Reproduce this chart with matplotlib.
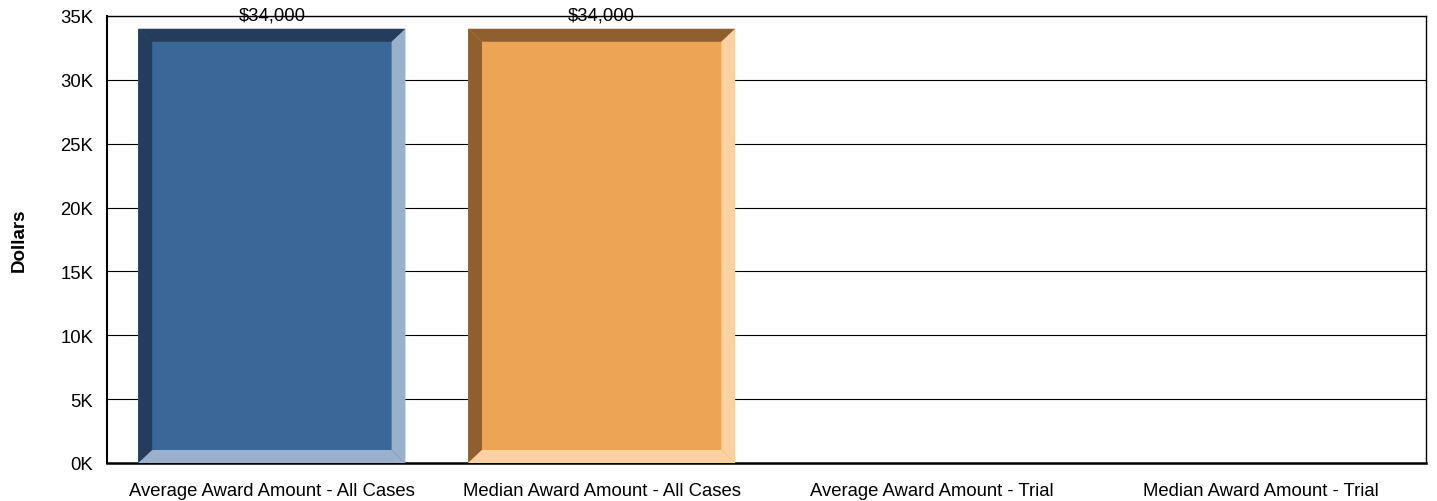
import matplotlib.pyplot as plt
from matplotlib.patches import Polygon, Rectangle
from matplotlib.ticker import FuncFormatter

categories = [
    "Average Award Amount - All Cases",
    "Median Award Amount - All Cases",
    "Average Award Amount - Trial",
    "Median Award Amount - Trial",
]
values = [34000, 34000, 0, 0]
value_labels = ["$34,000", "$34,000", "", ""]

# face, dark bevel (left/top), light bevel (right/bottom)
palette = [
    ("#3B6798", "#243D5C", "#9AB0CB"),
    ("#EEA455", "#8F5F30", "#F9D1A2"),
    ("#3B6798", "#243D5C", "#9AB0CB"),
    ("#EEA455", "#8F5F30", "#F9D1A2"),
]

plt.rcParams["font.family"] = ["Liberation Sans", "DejaVu Sans"]

fig = plt.figure(figsize=(14.37, 5.02), dpi=100)
ax = fig.add_axes([0.0745, 0.0757, 0.9178, 0.8905])

ymax = 35000
ax.set_xlim(-0.5, len(categories) - 0.5)
ax.set_ylim(0, ymax)

width = 0.81
bx = 0.042          # bevel thickness along x (data units)
by = ymax * 13 / 447  # bevel thickness along y (data units)

for i, (v, lab) in enumerate(zip(values, value_labels)):
    if v <= 0:
        continue
    face, dark, light = palette[i]
    x0, x1 = i - width / 2, i + width / 2
    ax.add_patch(Rectangle((x0, 0), width, v, facecolor=face, edgecolor="none", zorder=3))
    # left and top bevels
    ax.add_patch(Polygon([(x0, 0), (x0 + bx, by), (x0 + bx, v - by), (x0, v)],
                         closed=True, facecolor=dark, edgecolor="none", zorder=4))
    ax.add_patch(Polygon([(x0, v), (x0 + bx, v - by), (x1 - bx, v - by), (x1, v)],
                         closed=True, facecolor=dark, edgecolor="none", zorder=4))
    # right and bottom bevels
    ax.add_patch(Polygon([(x1, v), (x1 - bx, v - by), (x1 - bx, by), (x1, 0)],
                         closed=True, facecolor=light, edgecolor="none", zorder=4))
    ax.add_patch(Polygon([(x0, 0), (x0 + bx, by), (x1 - bx, by), (x1, 0)],
                         closed=True, facecolor=light, edgecolor="none", zorder=4))
    ax.text(i, v + 1100, lab, ha="center", va="center", fontsize=13.3, zorder=6)

ax.set_yticks(range(0, ymax + 1, 5000))
ax.yaxis.set_major_formatter(FuncFormatter(lambda y, _: f"{int(y / 1000)}K"))
ax.set_xticks(range(len(categories)))
ax.set_xticklabels(categories)
ax.tick_params(axis="both", length=0, labelsize=13.3)
ax.tick_params(axis="x", pad=14)
ax.tick_params(axis="y", pad=10)

ax.yaxis.grid(True, color="black", linewidth=0.8)
ax.set_axisbelow(True)
for s in ax.spines.values():
    s.set_color("black")
    s.set_linewidth(1.0)
ax.spines["bottom"].set_linewidth(1.8)
ax.spines["left"].set_linewidth(1.5)

ax.set_ylabel("Dollars", fontsize=13.5, fontweight="bold", labelpad=23)

fig.savefig("out.png", dpi=100)
